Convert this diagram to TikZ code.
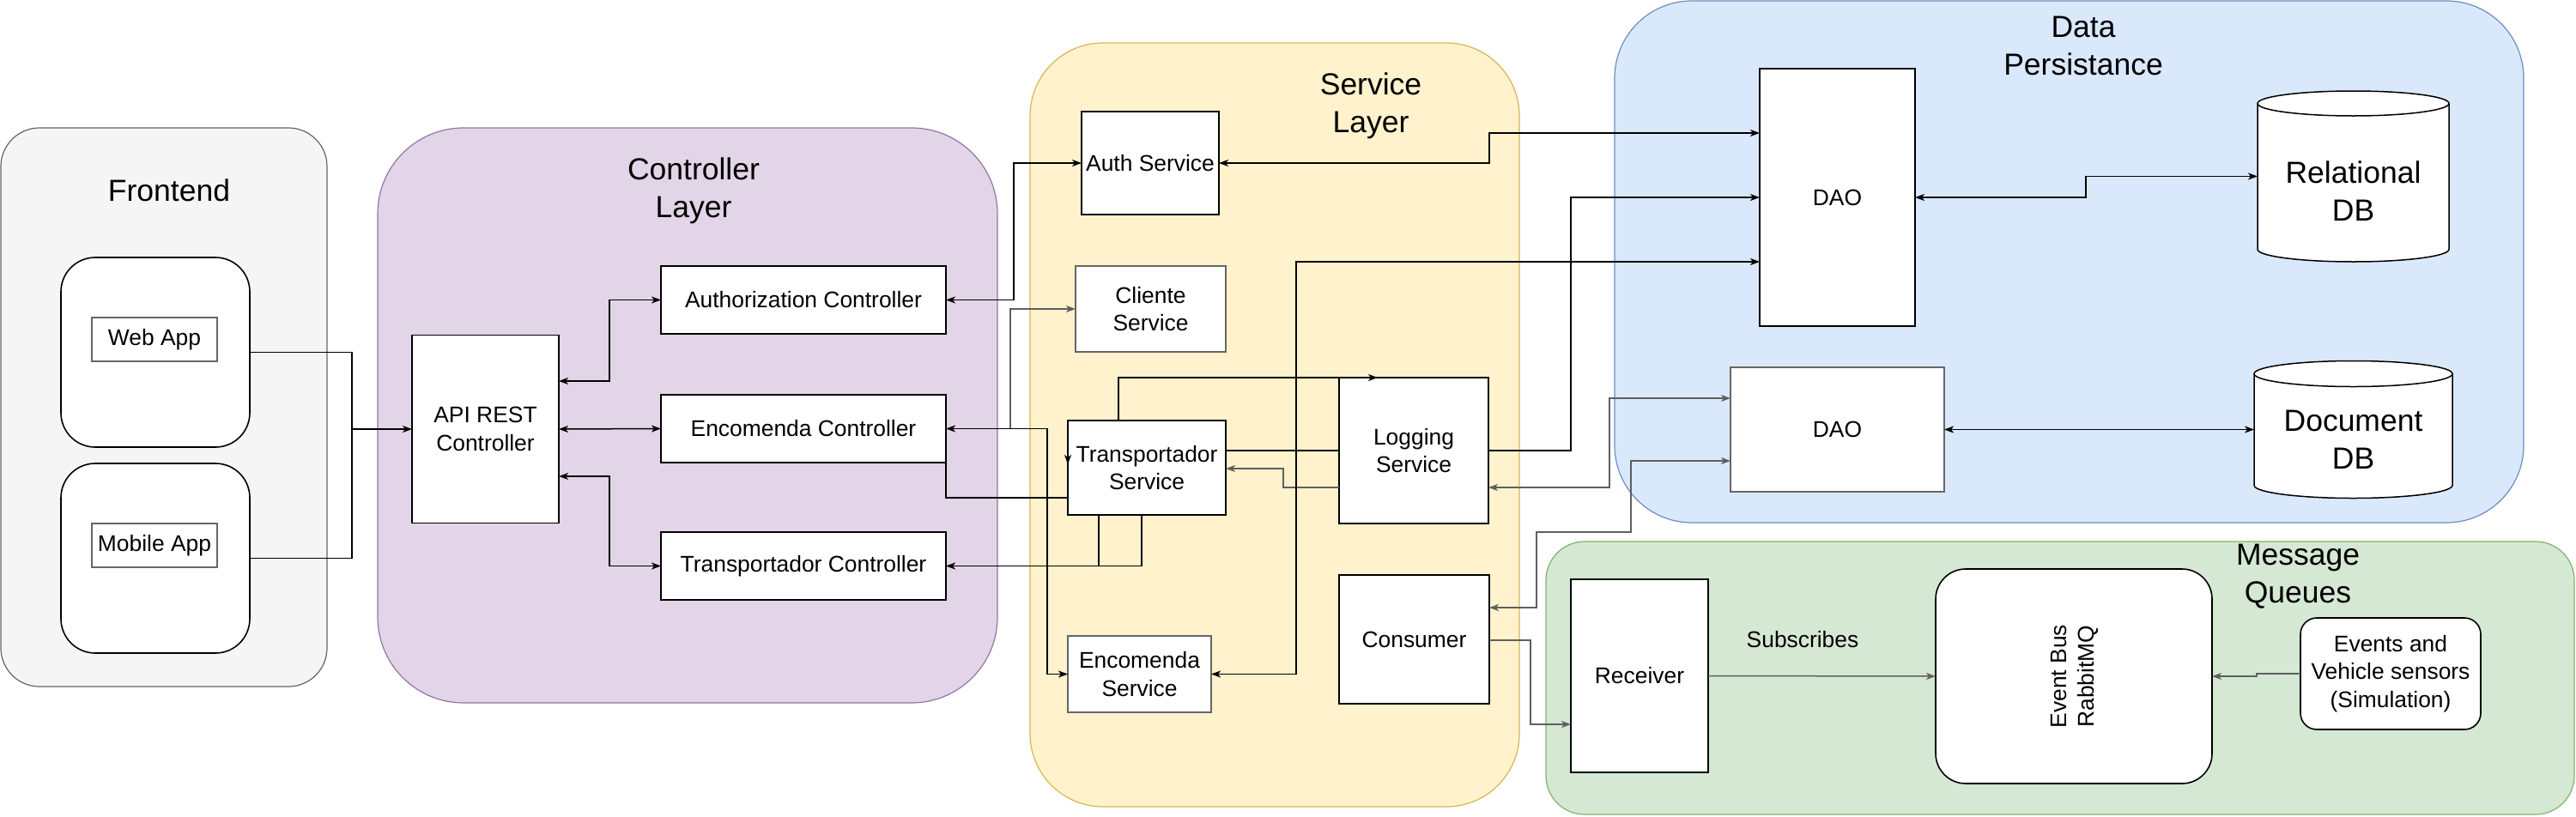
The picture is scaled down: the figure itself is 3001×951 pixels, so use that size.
\documentclass[tikz,border=0pt]{standalone}
\usepackage{fontspec}
\setmainfont{Liberation Sans}
\usetikzlibrary{arrows.meta}
\usetikzlibrary{positioning}

\definecolor{feFill}{HTML}{F5F5F5}
\definecolor{feLine}{HTML}{666666}
\definecolor{ctlFill}{HTML}{E1D5E7}
\definecolor{ctlLine}{HTML}{9673A6}
\definecolor{svcFill}{HTML}{FFF2CC}
\definecolor{svcLine}{HTML}{D6B656}
\definecolor{dpFill}{HTML}{DAE8FC}
\definecolor{dpLine}{HTML}{6C8EBF}
\definecolor{mqFill}{HTML}{D5E8D4}
\definecolor{mqLine}{HTML}{82B366}
\definecolor{lineGrey}{HTML}{5F5F5F}
\newcommand\bodyfont{\fontsize{26.4}{32.6}\selectfont}
\newcommand\titlefont{\fontsize{35.5}{44}\selectfont}

\begin{document}
\begin{tikzpicture}[x=1pt,y=-1pt,
  every node/.style={inner sep=0pt,outer sep=0pt,align=center,font=\bodyfont},
  sz/.style 2 args={minimum width=#1pt,minimum height=#2pt},
  grp/.style={draw,line width=1.2pt,rounded corners=#1pt},
  ttl/.style={font=\titlefont},
  box/.style={draw,fill=white,line width=1.6pt},
  rbox/.style={box,rounded corners=#1pt},
  ln/.style={line width=1.5pt},
  arr/.style={ln,-{Stealth[length=11pt,width=8pt,inset=3pt]}},
  dbl/.style={ln,{Stealth[length=11pt,width=8pt,inset=3pt]}-{Stealth[length=11pt,width=8pt,inset=3pt]}},
  gry/.style={draw=lineGrey}]
\useasboundingbox (0,0) rectangle (3001,951);

  \node[grp=45,fill=feFill,draw=feLine,sz={380}{651}] (fe) at (191,474.5) {};
  \node[grp=100,fill=ctlFill,draw=ctlLine,sz={722}{670}] (ctl) at (801,484) {};
  \node[grp=85,fill=svcFill,draw=svcLine,sz={570}{890}] (svc) at (1485,495) {};
  \node[grp=90,fill=dpFill,draw=dpLine,sz={1059}{608}] (dp) at (2410.5,305) {};
  \node[grp=45,fill=mqFill,draw=mqLine,sz={1198}{318}] (mq) at (2400,790) {};

  \node[ttl] (feT) at (197,222) {Frontend};
  \node[ttl] (ctlT) at (808,222) {Controller\\Layer};
  \node[ttl] (svcT) at (1597,123) {Service\\Layer};
  \node[ttl] (dpT) at (2427,53) {Data\\Persistance};
  \node[ttl] (mqT) at (2677,672) {Message\\Queues};

  \node[rbox=40,sz={220}{221}] (webb) at (181,410.5) {};
  \node[box,draw=feLine,sz={146}{51}] (web) at (180,395.5) {Web App};
  \node[rbox=40,sz={220}{221}] (mobb) at (181,650.5) {};
  \node[box,draw=feLine,sz={146}{51}] (mob) at (180,635.5) {Mobile App};

  \node[box,sz={171}{219}] (api) at (565.5,500) {API REST\\Controller};
  \node[box,sz={332}{79}] (authc) at (936,349.5) {Authorization Controller};
  \node[box,sz={332}{79},below=71pt of authc] (encc) {Encomenda Controller};
  \node[box,sz={332}{79},below=81pt of encc] (trac) {Transportador Controller};

  \node[box,sz={160}{120}] (auths) at (1340,190) {Auth Service};
  \node[box,draw=feLine,sz={175}{100}] (clis) at (1340.5,360) {Cliente\\Service};
  \node[box,sz={184}{110}] (trans) at (1336,545) {Transportador\\Service};
  \node[box,draw=feLine,sz={167}{89}] (encs) at (1327.5,785.5) {Encomenda\\Service};
  \node[box,sz={174}{170}] (logs) at (1647,525) {Logging\\Service};
  \node[box,sz={175}{150}] (cons) at (1647.5,745) {Consumer};

  \node[box,sz={181}{300}] (dao1) at (2140.5,230) {DAO};
  \node[box,draw=feLine,sz={249}{145}] (dao2) at (2140.5,500.5) {DAO};
  \node[sz={223}{199}] (reldb) at (2741.5,205.5) {};
  \node[sz={231}{160}] (docdb) at (2741.5,500.5) {};
  \draw[ln,fill=white] (reldb.north west) ++(0,14.5) -- ([yshift=14.5pt]reldb.south west)
    arc[start angle=180,end angle=0,x radius=111.5,y radius=14.5] -- ([yshift=-14.5pt]reldb.north east);
  \draw[ln,fill=white] ([yshift=-14.5pt]reldb.north) ellipse[x radius=111.5,y radius=14.5];
  \draw[ln,fill=white] (docdb.north west) ++(0,15) -- ([yshift=15pt]docdb.south west)
    arc[start angle=180,end angle=0,x radius=115.5,y radius=15] -- ([yshift=-15pt]docdb.north east);
  \draw[ln,fill=white] ([yshift=-15pt]docdb.north) ellipse[x radius=115.5,y radius=15];
  \node[ttl] (reldbT) at (2741.5,223) {Relational\\DB};
  \node[ttl] (docdbT) at (2741.5,512) {Document\\DB};

  \node[box,sz={160}{225}] (recv) at (1910,787.5) {Receiver};
  \node[rbox=35,sz={322}{250}] (bus) at (2416,788) {};
  \node[rotate=90] (busT) at (2417,788) {Event Bus\\RabbitMQ};
  \node[rbox=19,sz={210}{130}] (evt) at (2785,785) {Events and\\Vehicle sensors\\(Simulation)};
  \node (subs) at (2100,745) {Subscribes};

  \draw[arr] (webb.east) -| (410,500) -- (api.west);
  \draw[ln] (mobb.east) -| (410,500);
  \draw[dbl] (api.east |- 0,444) -| (710,349.5) -- (authc.west);
  \draw[dbl] (api.east) -- (encc.west);
  \draw[dbl] (api.east |- 0,555) -| (710,659.5) -- (trac.west);
  \draw[dbl] (authc.east) -| (1181,190) -- (auths.west);
  \draw[arr,gry] (encc.east) -| (1177,360) -- (clis.west);
  \draw[dbl] (encc.east) -| (1220,785.5) -- (encs.west);
  \draw[ln] (encc.south east) |- (trans.west |- 0,580);
  \draw[arr] (trans.west |- 0,528) -- (trans.west |- 0,541);
  \draw[arr] (trans.south -| 1330,0) |- (trac.east);
  \draw[ln] (trans.south -| 1280,0) |- (trac.east);
  \draw[arr] (trans.north -| 1303,0) |- ([xshift=45pt]logs.north west);
  \draw[ln] (trans.east |- logs.west) -- (logs.west);
  \draw[arr,gry] (logs.west |- 0,568) -| (1495,546) -- (trans.east |- 0,546);
  \draw[arr] (logs.east) -| (1830,230) -- (dao1.west);
  \draw[dbl] (auths.east) -| (1735,155) -- (dao1.west |- 0,155);
  \draw[dbl] (encs.east) -| (1510,305) -- (dao1.west |- 0,305);
  \draw[dbl,gry] (logs.east |- 0,568) -| (1875,464) -- (dao2.west |- 0,464);
  \draw[dbl,gry] (cons.east |- 0,708) -| (1790,620) -| (1900,537) -- (dao2.west |- 0,537);
  \draw[arr,gry] (cons.east |- 0,746) -| (1783,844) -- (recv.west |- 0,844);
  \draw[arr,gry] (recv.east) -- (bus.west);
  \draw[arr,gry] (evt.west) -| (2629,788) -- (bus.east);
  \draw[dbl] (dao1.east) -| (2430,205.5) -- (reldb.west);
  \draw[dbl] (dao2.east) -- (docdb.west);
\end{tikzpicture}
\end{document}
